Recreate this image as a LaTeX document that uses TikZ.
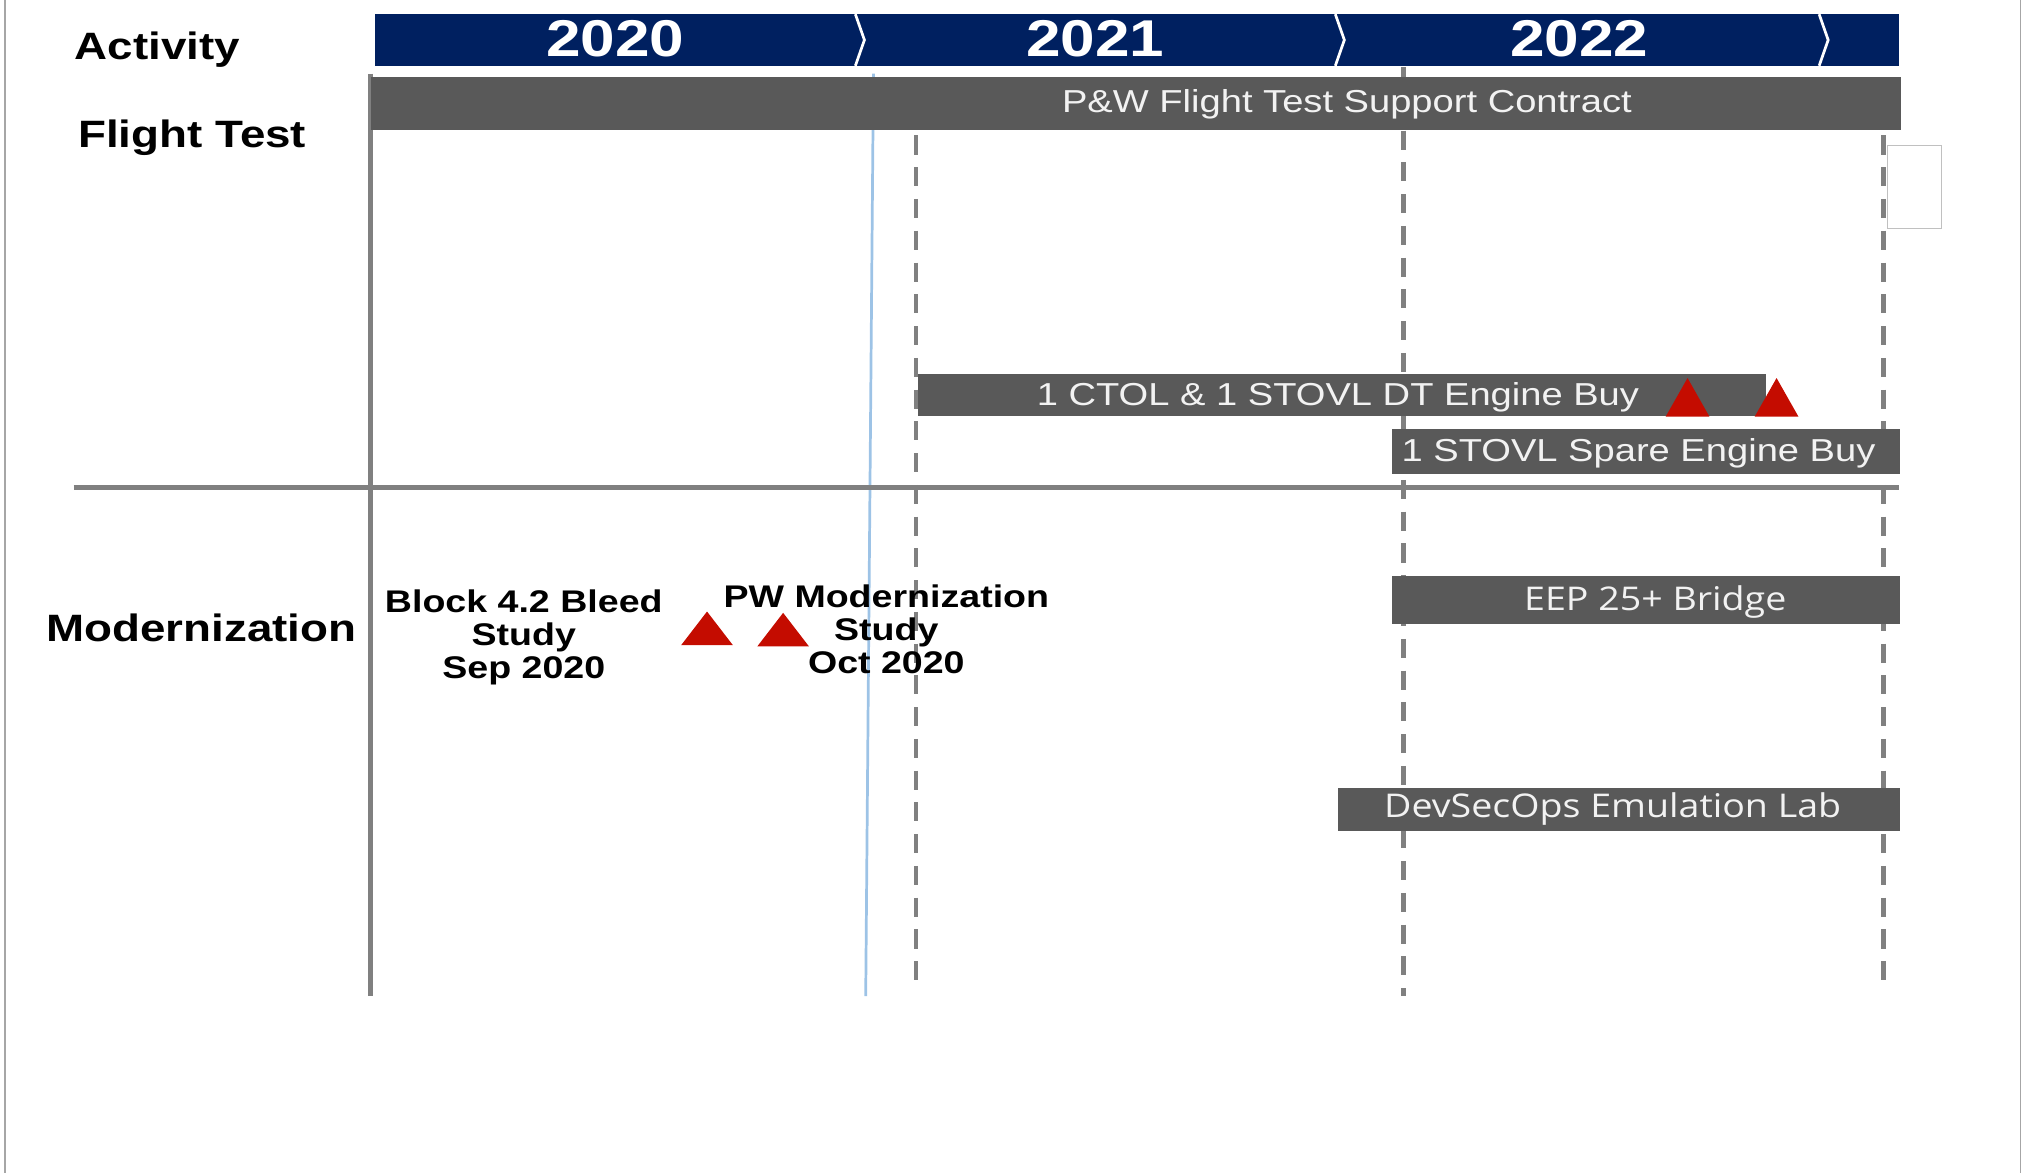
\documentclass[tikz,border=0pt]{standalone}
\usepackage{fontspec}
\setmainfont{Liberation Sans}
\newfontfamily\arialwide[FakeStretch=1.2]{Liberation Sans}
\newfontfamily\segoewide[FakeStretch=1.15]{Open Sans}
\usetikzlibrary{arrows.meta}
\definecolor{navy}{RGB}{0,32,96}
\definecolor{bargray}{RGB}{89,89,89}
\definecolor{linegray}{RGB}{128,128,128}
\definecolor{msred}{RGB}{196,12,0}
\definecolor{todayblue}{RGB}{157,195,230}
\begin{document}
\begin{tikzpicture}[x=0.01cm,y=-0.01cm]
	\def \hdrtop{11}
	\def \hdrbot{51}
	\def \axbot{772}
	\tikzstyle{act-label}=[anchor=base,inner sep=0pt,font=\arialwide\bfseries\fontsize{8.4}{10}\selectfont]
	\tikzstyle{year}=[anchor=base,inner sep=0pt,text=white,font=\arialwide\bfseries\fontsize{11.4}{13}\selectfont]
	\tikzstyle{bar}=[fill=bargray,draw=none,inner sep=0pt,anchor=north west]
	\tikzstyle{bar-text}=[anchor=base,inner sep=0pt,text=white!95!black,font=\arialwide\fontsize{7}{8}\selectfont]
	\tikzstyle{seg-text}=[anchor=base,inner sep=0pt,text=white!95!black,font=\segoewide\fontsize{7.2}{8}\selectfont]
	\tikzstyle{ms-text}=[align=center,inner sep=0pt,font=\arialwide\bfseries\fontsize{6.9}{7.3}\selectfont]
	\tikzstyle{milestone}=[fill=msred]
	\tikzstyle{year-line}=[linegray,line width=1pt,dash pattern=on 4.2pt off 2.8pt]

	\useasboundingbox (0,0) rectangle (1568,909);
	% frame
	\draw[linegray!70,line width=0.3pt] (4,0) -- (4,909);
	\draw[linegray!70,line width=0.3pt] (1566,0) -- (1566,909);

	% header
	\fill[navy] (291,\hdrtop) rectangle (1472,\hdrbot);
	\foreach \cx in {663,1035,1410}
		\draw[white,line width=0.6pt] (\cx,\hdrtop) -- (\cx+7,31) -- (\cx,\hdrbot);
	\node[year] (y2020) at (477,44) {2020};
	\node[year] (y2021) at (849,44) {2021};
	\node[year] (y2022) at (1224,44) {2022};

	% labels
	\node[act-label] (activity-label) at (122,46) {Activity};
	\node[act-label] (flight-label) at (149,114) {Flight Test};
	\node[act-label] (modern-label) at (156,497) {Modernization};

	% grid lines
	\draw[todayblue,line width=0.6pt] (677,57) -- (671,\axbot);
	\draw[year-line] (710,105) -- (710,765);
	\draw[year-line] (1088,52) -- (1088,\axbot);
	\draw[year-line] (1460,105) -- (1460,765);
	\draw[linegray,line width=1.1pt] (287,57) -- (287,\axbot);
	\draw[linegray,line width=1pt] (57,378) -- (1472,378);
	\draw[linegray!50,line width=0.3pt,fill=white] (1463,113) rectangle (1505,177);

	% flight test bars
	\node[bar,minimum width=11.85cm,minimum height=0.41cm] (pw-bar) at (287,59) {};
	\node[bar-text] (pw-label) at (1044,87) {P\&W Flight Test Support Contract};
	\node[bar,minimum width=6.57cm,minimum height=0.33cm] (ctol-bar) at (711,289) {};
	\node[bar-text] (ctol-label) at (1037,314) {1 CTOL \& 1 STOVL DT Engine Buy};
	\node[bar,minimum width=3.94cm,minimum height=0.35cm] (spare-bar) at (1078,332) {};
	\node[bar-text] (spare-label) at (1270,358) {1 STOVL Spare Engine Buy};
	\fill[milestone] (1291,323) -- (1308,293) -- (1325,323) -- cycle;
	\fill[milestone] (1360,323) -- (1377,293) -- (1394,323) -- cycle;

	% modernization bars
	\node[bar,minimum width=3.94cm,minimum height=0.37cm] (eep-bar) at (1078,446) {};
	\node[seg-text] (eep-label) at (1283,473) {EEP 25+ Bridge};
	\node[bar,minimum width=4.36cm,minimum height=0.33cm] (lab-bar) at (1036,610) {};
	\node[seg-text] (lab-label) at (1250,634) {DevSecOps Emulation Lab};
	\fill[milestone] (528,500) -- (548,474) -- (568,500) -- cycle;
	\fill[milestone] (587,501) -- (607,475) -- (627,501) -- cycle;
	\node[ms-text] (bleed-label) at (406,494) {Block 4.2 Bleed\\Study\\Sep 2020};
	\node[ms-text] (pwmod-label) at (687,488) {PW Modernization\\Study\\Oct 2020};
\end{tikzpicture}
\end{document}
